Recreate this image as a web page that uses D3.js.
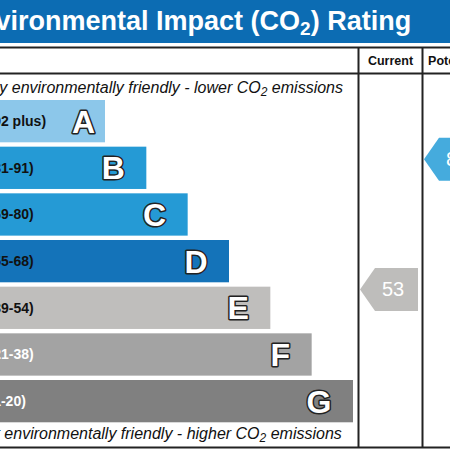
<!DOCTYPE html>
<html><head><meta charset="utf-8">
<script src="https://cdn.jsdelivr.net/npm/d3@7"></script>
<style>body{margin:0;background:#fff}svg{display:block}text{font-family:"Liberation Sans",Arial,sans-serif}</style>
</head><body><div id="chart"></div>
<script>
const bands = ["A","B","C","D","E","F","G"];
const ranges = ["(92 plus)","(81-91)","(69-80)","(55-68)","(39-54)","(21-38)","(1-20)"];
const bandMin = [92,81,69,55,39,21,1];
const bandMax = [100,91,80,68,54,38,20];
const bandColors = ["#8cc7ea","#259ad5","#259ad5","#1473b9","#bfbebc","#a3a3a3","#808080"];
const labelColors = ["#111","#111","#111","#111","#111","#fff","#fff"];
const columns = ["Current","Potential"];
const ratings = [53, 88];
const arrowColors = ["#bebdbb","#45abdd"];
const titleText = "Environmental Impact (CO";
const topNote = ["Very environmentally friendly - lower CO","2"," emissions"];
const bottomNote = ["Not environmentally friendly - higher CO","2"," emissions"];

const W = 450, H = 450;
const svg = d3.select("#chart").append("svg").attr("width", W).attr("height", H);

// layout
const left = -20, colX = [358.5, 422.5], colW = 64;
const y = d3.scaleBand().domain(bands).range([100, 422.3]).paddingInner(0.0936).paddingOuter(0);
const xRight = d3.scaleLinear().domain([0, 6]).range([105, 353]);

// title bar
svg.append("rect").attr("x", -40).attr("y", 0).attr("width", 600).attr("height", 43).attr("fill", "#0c6cb3");
const t = svg.append("text").attr("x", -39).attr("y", 29.5).attr("fill", "#fff")
  .attr("font-size", 27).attr("font-weight", "bold");
t.append("tspan").text(titleText);
t.append("tspan").attr("font-size", 19).attr("dy", 5).text("2");
t.append("tspan").attr("dy", -5).text(") Rating");

// grid lines
const lineCol = "#222";
[47.5, 73.5, 447.5].forEach(yy =>
  svg.append("line").attr("x1", -40).attr("x2", 600).attr("y1", yy).attr("y2", yy)
    .attr("stroke", lineCol).attr("stroke-width", 2));
colX.forEach(xx =>
  svg.append("line").attr("x1", xx).attr("x2", xx).attr("y1", 47.5).attr("y2", 448)
    .attr("stroke", lineCol).attr("stroke-width", 2));

// headers
svg.selectAll("text.hdr").data(columns).enter().append("text").attr("class","hdr")
  .attr("x", (d,i) => colX[i] + colW/2).attr("y", 65).attr("text-anchor","middle")
  .attr("font-size", 12.5).attr("font-weight","bold").attr("fill","#111").text(d => d);

// notes
function note(parts, yy) {
  const n = svg.append("text").attr("x", -25).attr("y", yy).attr("font-size", 16)
    .attr("font-style","italic").attr("fill","#111");
  n.append("tspan").text(parts[0]);
  n.append("tspan").attr("font-size", 12).attr("dy", 3).text(parts[1]);
  n.append("tspan").attr("dy", -3).text(parts[2]);
}
note(topNote, 93);
note(bottomNote, 439);

// bars
const g = svg.selectAll("g.band").data(bands).enter().append("g").attr("class","band");
g.append("rect").attr("x", left).attr("y", d => y(d))
  .attr("width", (d,i) => xRight(i) - left).attr("height", y.bandwidth())
  .attr("fill", (d,i) => bandColors[i]);
g.append("text").attr("x", -11.5).attr("y", d => y(d) + y.bandwidth()/2 + 5)
  .attr("font-size", 14).attr("font-weight","bold").attr("fill", (d,i) => labelColors[i])
  .text((d,i) => ranges[i]);
g.append("text").attr("x", (d,i) => i === 0 ? xRight(i) - 10 : xRight(i) - 21.5)
  .attr("y", d => y(d) + y.bandwidth()/2 + 11.5).attr("text-anchor","end")
  .attr("font-size", 32).attr("font-weight","bold").attr("fill","#fff")
  .attr("stroke","#222").attr("stroke-width",3).attr("stroke-linejoin","round")
  .attr("paint-order","stroke")
  .text(d => d);

// arrows
function ratingY(v) {
  const i = bands.findIndex((b, k) => v >= bandMin[k] && v <= bandMax[k]);
  const s = d3.scaleLinear().domain([bandMax[i], bandMin[i]]).range([y(bands[i]), y(bands[i]) + y.bandwidth()]);
  return s(v);
}
const ah = 43, tip = 15;
ratings.forEach((v, i) => {
  const cy = ratingY(v);
  const x0 = colX[i] + 1.5, x1 = colX[i] + colW - 4.5;
  const path = d3.path();
  path.moveTo(x0, cy);
  path.lineTo(x0 + tip, cy - ah/2);
  path.lineTo(x1, cy - ah/2);
  path.lineTo(x1, cy + ah/2);
  path.lineTo(x0 + tip, cy + ah/2);
  path.closePath();
  svg.append("path").attr("d", path.toString()).attr("fill", arrowColors[i]);
  svg.append("text").attr("x", x0 + 22).attr("y", cy + 7).attr("font-size", 20)
    .attr("fill","#fff").text(v);
});
</script></body></html>
